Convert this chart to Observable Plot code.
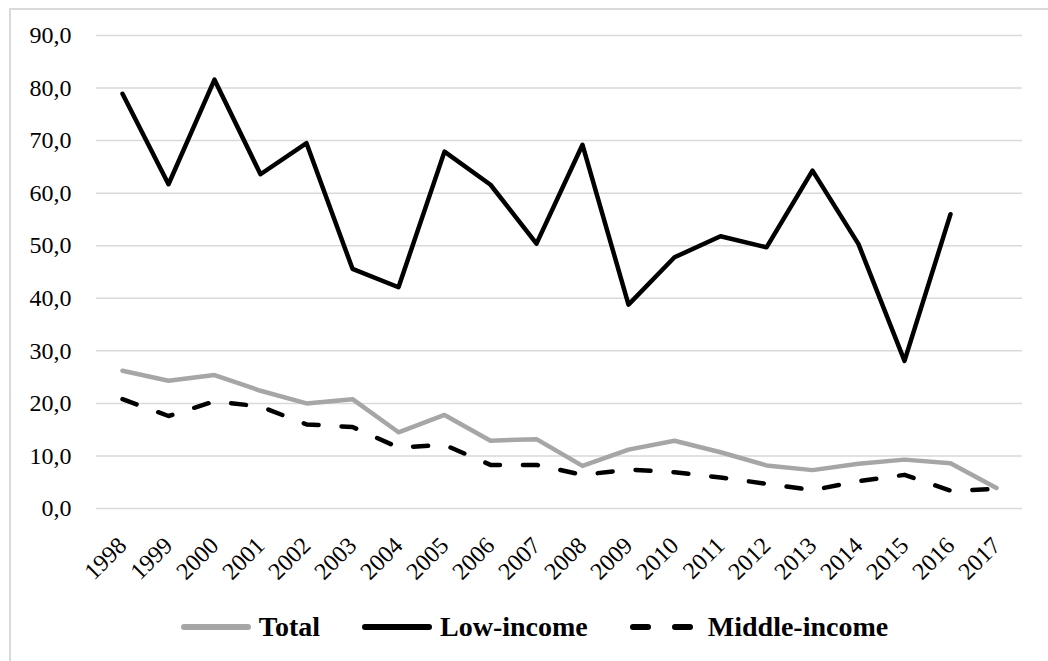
<!DOCTYPE html>
<html>
<head>
<meta charset="utf-8">
<script src="https://cdn.jsdelivr.net/npm/d3@7"></script>
<script src="https://cdn.jsdelivr.net/npm/@observablehq/plot@0.6"></script>
<style>
  html, body { margin: 0; padding: 0; background: #fff; overflow: hidden; }
  body { width: 1048px; height: 661px; position: relative; font-family: "Liberation Serif", "Times New Roman", Times, Tinos, "DejaVu Serif", serif; }
  #frame { position: absolute; left: 9px; top: 8px; width: 1100px; height: 700px; border-top: 2px solid #d9d9d9; border-left: 2px solid #d9d9d9; box-sizing: border-box; }
  #chart { position: absolute; left: 0; top: 0; }
  #chart svg, #chart svg text { font-family: "Liberation Serif", "Times New Roman", Times, Tinos, "DejaVu Serif", serif !important; }
  #legend { position: absolute; left: 10px; top: 610px; width: 1048px; height: 34px; display: flex; justify-content: center; align-items: center; font-weight: bold; font-size: 28px; color: #000; }
  .item { display: flex; align-items: center; }
  .item svg { margin-right: 7px; }
  .item + .item { margin-left: 41px; }
</style>
</head>
<body>
<div id="frame"></div>
<div id="chart"></div>
<div id="legend"></div>
<script>
const years = ["1998","1999","2000","2001","2002","2003","2004","2005","2006","2007","2008","2009","2010","2011","2012","2013","2014","2015","2016","2017"];
const total = [26.2, 24.3, 25.4, 22.4, 20.0, 20.8, 14.5, 17.8, 12.9, 13.2, 8.1, 11.2, 12.9, 10.7, 8.2, 7.3, 8.5, 9.3, 8.6, 3.9];
const lowIncome = [78.9, 61.7, 81.6, 63.6, 69.5, 45.6, 42.1, 67.9, 61.6, 50.4, 69.2, 38.8, 47.8, 51.8, 49.7, 64.3, 50.3, 28.1, 56.0, null];
const middleIncome = [20.8, 17.6, 20.4, 19.4, 16.0, 15.5, 11.6, 12.1, 8.3, 8.3, 6.4, 7.4, 6.9, 5.9, 4.7, 3.5, 5.2, 6.4, 3.4, 3.7];
const yTicks = [0, 10, 20, 30, 40, 50, 60, 70, 80, 90];
const seriesNames = ["Total", "Low-income", "Middle-income"];

const rows = (vals) => years.map((y, i) => ({year: y, value: vals[i]}));
const fmt = d => d.toFixed(1).replace(".", ",");
const serif = "'Liberation Serif', 'Times New Roman', Times, Tinos, 'DejaVu Serif', serif";

const chart = Plot.plot({
  width: 1048,
  height: 600,
  marginLeft: 96,
  marginRight: 26,
  marginTop: 35,
  marginBottom: 92,
  style: {fontFamily: serif, fontSize: "24px", color: "#000", background: "transparent"},
  x: {type: "point", domain: years, padding: 0.5},
  y: {domain: [0, 90]},
  marks: [
    Plot.gridY(yTicks, {stroke: "#d9d9d9", strokeOpacity: 1, strokeWidth: 1.5}),
    Plot.axisY(yTicks, {tickSize: 0, tickPadding: 25, tickFormat: fmt, fontSize: 24, fontFamily: serif, label: null}),
    Plot.axisX(years, {tickSize: 0, tickPadding: 33, tickRotate: -45, fontSize: 24, fontFamily: serif, label: null}),
    Plot.line(rows(total), {x: "year", y: "value", stroke: "#a6a6a6", strokeWidth: 4.5, strokeLinejoin: "round", strokeLinecap: "round"}),
    Plot.line(rows(middleIncome), {x: "year", y: "value", stroke: "#000", strokeWidth: 4.5, strokeDasharray: "15,23", strokeLinejoin: "round", strokeLinecap: "round"}),
    Plot.line(rows(lowIncome), {x: "year", y: "value", stroke: "#000", strokeWidth: 4.5, strokeLinejoin: "round", strokeLinecap: "round"})
  ]
});
document.getElementById("chart").appendChild(chart);

const legendStyles = [
  {stroke: "#a6a6a6", dash: null},
  {stroke: "#000", dash: null},
  {stroke: "#000", dash: "15,27"}
];
const legend = document.getElementById("legend");
seriesNames.forEach((name, i) => {
  const s = legendStyles[i];
  const item = document.createElement("div");
  item.className = "item";
  item.innerHTML = `<svg width="72" height="12"><line x1="4" y1="6" x2="68" y2="6" stroke="${s.stroke}" stroke-width="6" stroke-linecap="round" ${s.dash ? `stroke-dasharray="${s.dash}"` : ""}/></svg><span>${name}</span>`;
  legend.appendChild(item);
});
</script>
</body>
</html>
